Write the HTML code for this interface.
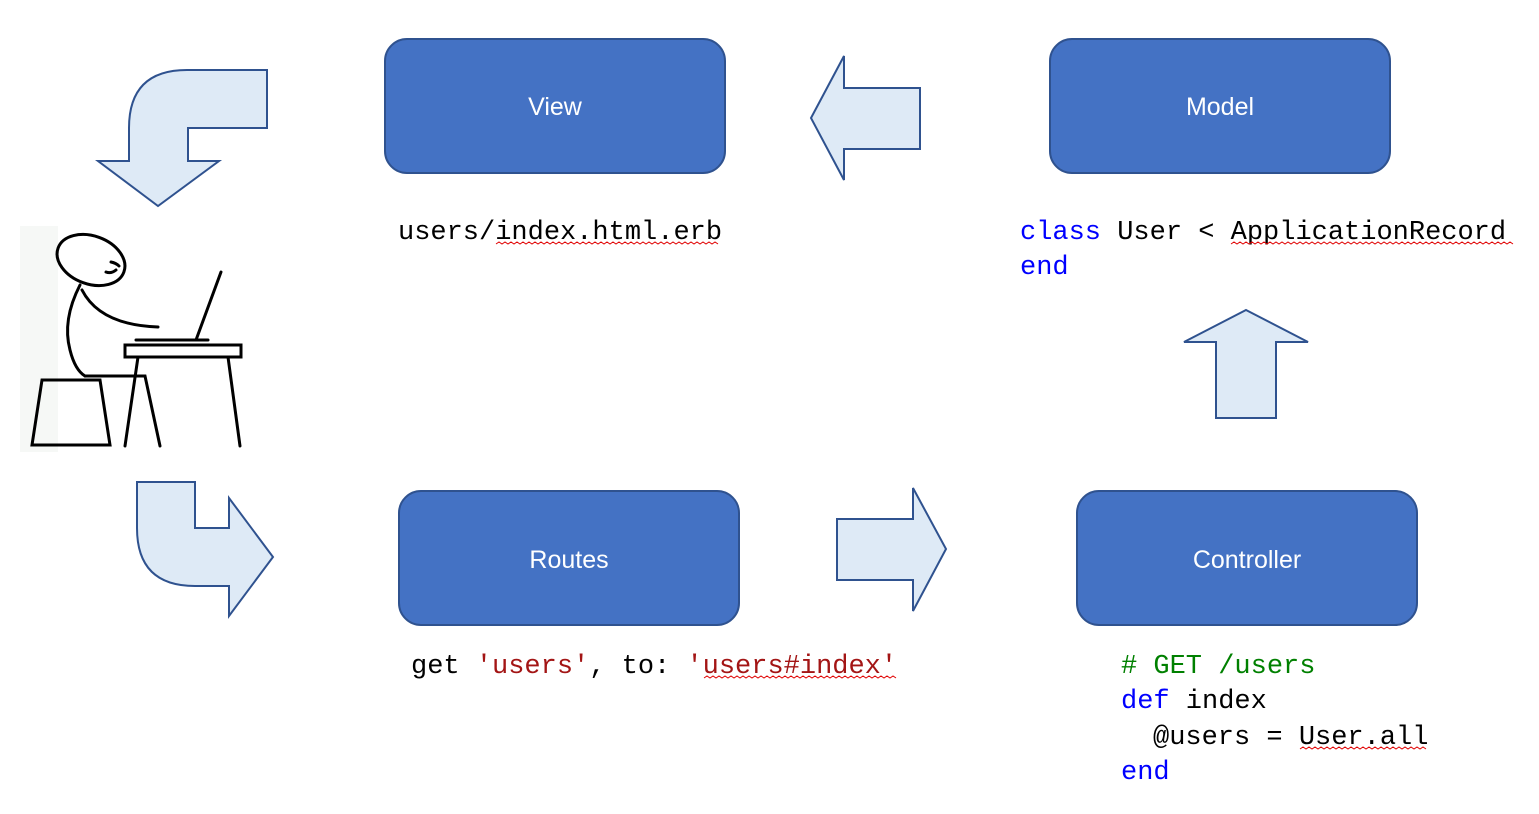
<!DOCTYPE html>
<html><head><style>
html,body{margin:0;padding:0;background:#fff;}
svg{display:block}
.m{font-family:"Liberation Mono",monospace;font-size:27px;}
.b{font-family:"Liberation Sans",sans-serif;font-size:25px;fill:#fff;}
</style></head><body>
<svg width="1539" height="814" viewBox="0 0 1539 814" xmlns="http://www.w3.org/2000/svg">
<g fill="#DEEAF6" stroke="#2F528F" stroke-width="2" stroke-linejoin="miter">
<path d="M267,70 L267,128 L188,128 L188,161 L219,161 L158,206 L98,161 L129,161 L129,128 Q129,70 187,70 Z"/>
<path d="M137,482 L195,482 L195,528 L229,528 L229,498 L273,557 L229,616 L229,586 L195,586 Q137,586 137,528 Z"/>
<path d="M811,118 L844,56 L844,88 L920,88 L920,149 L844,149 L844,180 Z"/>
<path d="M837,519 L913,519 L913,488 L946,549 L913,611 L913,580 L837,580 Z"/>
<path d="M1246,310 L1308,342 L1276,342 L1276,418 L1216,418 L1216,342 L1184,342 Z"/>
</g>
<g fill="#4472C4" stroke="#2F528F" stroke-width="2">
<rect x="385" y="39" width="340" height="134" rx="22"/>
<rect x="1050" y="39" width="340" height="134" rx="22"/>
<rect x="399" y="491" width="340" height="134" rx="22"/>
<rect x="1077" y="491" width="340" height="134" rx="22"/>
</g>
<g class="b" text-anchor="middle">
<text x="555" y="115">View</text>
<text x="1220" y="115">Model</text>
<text x="569" y="568">Routes</text>
<text x="1247" y="568">Controller</text>
</g>
<rect x="20" y="226" width="38" height="226" fill="#F6F8F6"/>
<g fill="none" stroke="#000" stroke-width="3" stroke-linecap="round">
<ellipse cx="91" cy="260" rx="35" ry="24" transform="rotate(20 91 260)"/>
<path d="M111,262 q5,1 8,4"/>
<path d="M106,272 q5,2 10,-2"/>
<path d="M80,285 Q62,320 70,350 Q75,370 85,376"/>
<path d="M82,290 Q100,325 158,327"/>
<path d="M85,376 L145,376 L160,446"/>
<rect x="125" y="345" width="116" height="12"/>
<path d="M136,340 L208,340"/>
<path d="M196,340 L221,272"/>
<path d="M138,357 L125,446"/>
<path d="M228,357 L240,446"/>
<path d="M42,380 L100,380 L110,445 L32,445 Z"/>
</g>
<g class="m">
<text x="398" y="239">users/index.html.erb</text>
<text x="1020" y="239"><tspan fill="#0000FF">class</tspan> User &lt; ApplicationRecord</text>
<text x="1020" y="274" fill="#0000FF">end</text>
<text x="411" y="673">get <tspan fill="#A31515">'users'</tspan>, to: <tspan fill="#A31515">'users#index'</tspan></text>
<text x="1121" y="673" fill="#008000"># GET /users</text>
<text x="1121" y="708"><tspan fill="#0000FF">def</tspan> index</text>
<text x="1153" y="744">@users = User.all</text>
<text x="1121" y="779" fill="#0000FF">end</text>
</g>
<g fill="none" stroke="#E00000" stroke-width="1">
<path d="M496,244 l3,-2 l3,2 l3,-2 l3,2 l3,-2 l3,2 l3,-2 l3,2 l3,-2 l3,2 l3,-2 l3,2 l3,-2 l3,2 l3,-2 l3,2 l3,-2 l3,2 l3,-2 l3,2 l3,-2 l3,2 l3,-2 l3,2 l3,-2 l3,2 l3,-2 l3,2 l3,-2 l3,2 l3,-2 l3,2 l3,-2 l3,2 l3,-2 l3,2 l3,-2 l3,2 l3,-2 l3,2 l3,-2 l3,2 l3,-2 l3,2 l3,-2 l3,2 l3,-2 l3,2 l3,-2 l3,2 l3,-2 l3,2 l3,-2 l3,2 l3,-2 l3,2 l3,-2 l3,2 l3,-2 l3,2 l3,-2 l3,2 l3,-2 l3,2 l3,-2 l3,2 l3,-2 l3,2 l3,-2 l3,2 l3,-2 l3,2 l3,-2 l3,2"/>
<path d="M1231,244 l3,-2 l3,2 l3,-2 l3,2 l3,-2 l3,2 l3,-2 l3,2 l3,-2 l3,2 l3,-2 l3,2 l3,-2 l3,2 l3,-2 l3,2 l3,-2 l3,2 l3,-2 l3,2 l3,-2 l3,2 l3,-2 l3,2 l3,-2 l3,2 l3,-2 l3,2 l3,-2 l3,2 l3,-2 l3,2 l3,-2 l3,2 l3,-2 l3,2 l3,-2 l3,2 l3,-2 l3,2 l3,-2 l3,2 l3,-2 l3,2 l3,-2 l3,2 l3,-2 l3,2 l3,-2 l3,2 l3,-2 l3,2 l3,-2 l3,2 l3,-2 l3,2 l3,-2 l3,2 l3,-2 l3,2 l3,-2 l3,2 l3,-2 l3,2 l3,-2 l3,2 l3,-2 l3,2 l3,-2 l3,2 l3,-2 l3,2 l3,-2 l3,2 l3,-2 l3,2 l3,-2 l3,2 l3,-2 l3,2 l3,-2 l3,2 l3,-2 l3,2 l3,-2 l3,2 l3,-2 l3,2 l3,-2 l3,2 l3,-2 l3,2 l3,-2 l3,2"/>
<path d="M704,678 l3,-2 l3,2 l3,-2 l3,2 l3,-2 l3,2 l3,-2 l3,2 l3,-2 l3,2 l3,-2 l3,2 l3,-2 l3,2 l3,-2 l3,2 l3,-2 l3,2 l3,-2 l3,2 l3,-2 l3,2 l3,-2 l3,2 l3,-2 l3,2 l3,-2 l3,2 l3,-2 l3,2 l3,-2 l3,2 l3,-2 l3,2 l3,-2 l3,2 l3,-2 l3,2 l3,-2 l3,2 l3,-2 l3,2 l3,-2 l3,2 l3,-2 l3,2 l3,-2 l3,2 l3,-2 l3,2 l3,-2 l3,2 l3,-2 l3,2 l3,-2 l3,2 l3,-2 l3,2 l3,-2 l3,2 l3,-2 l3,2 l3,-2 l3,2"/>
<path d="M1300,749 l3,-2 l3,2 l3,-2 l3,2 l3,-2 l3,2 l3,-2 l3,2 l3,-2 l3,2 l3,-2 l3,2 l3,-2 l3,2 l3,-2 l3,2 l3,-2 l3,2 l3,-2 l3,2 l3,-2 l3,2 l3,-2 l3,2 l3,-2 l3,2 l3,-2 l3,2 l3,-2 l3,2 l3,-2 l3,2 l3,-2 l3,2 l3,-2 l3,2 l3,-2 l3,2 l3,-2 l3,2 l3,-2 l3,2"/>
</g>
</svg>
</body></html>
